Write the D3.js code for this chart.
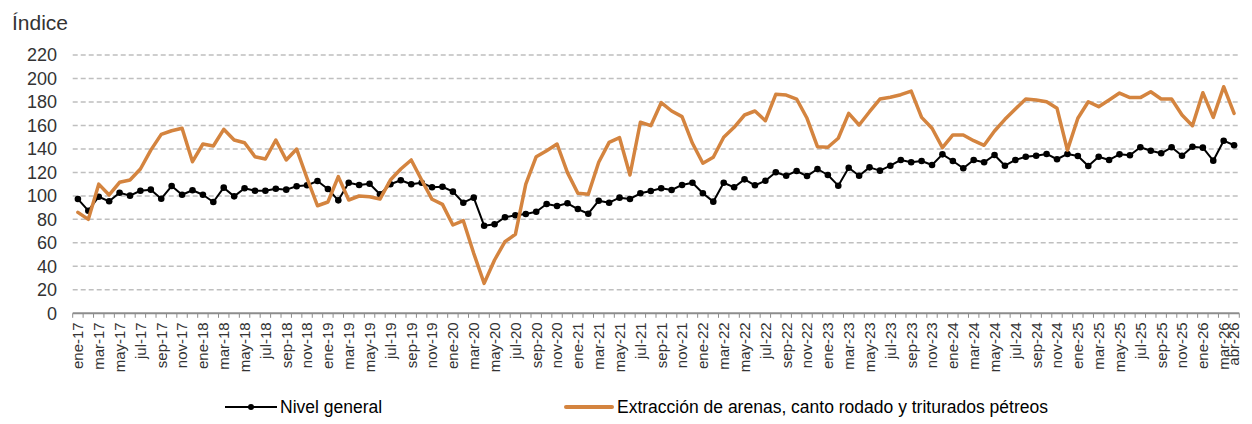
<!DOCTYPE html>
<html><head><meta charset="utf-8">
<script src="https://cdn.jsdelivr.net/npm/d3@7"></script>
<style>body{margin:0;background:#fff} svg{display:block}</style>
</head><body><svg id="c" width="1252" height="424"></svg>
<script>
const months = ["ene","feb","mar","abr","may","jun","jul","ago","sep","oct","nov","dic"];
const years = ["17","18","19","20","21","22","23","24","25","26"];
const categories = [];
years.forEach(y => months.forEach(m => categories.push(m + "-" + y)));
categories.splice(112);

const nivelGeneral = [97.3, 87.4, 99.3, 95.4, 102.7, 100.2, 104.4, 105.3, 97.6, 108.4,
  101, 104.8, 101, 94.8, 107, 99.6, 106.5, 104.4, 104.4, 106.1,
  105.3, 108.2, 109, 112.7, 105.9, 96.2, 111.2, 109.3, 110.4, 101.4,
  109.9, 113.3, 109.9, 111.2, 107.3, 107.8, 103.6, 94.2, 98.5, 74.6,
  75.8, 81.8, 83.5, 84.6, 86.5, 93.1, 91.4, 93.7, 88.8, 84.8,
  95.9, 94.2, 98.5, 97.4, 102.2, 104.2, 106.5, 105, 109.3, 111.2,
  102.2, 95.1, 111.2, 107.3, 114.1, 109, 112.9, 120.1, 117.2, 121.2,
  116.9, 122.9, 117.8, 108.7, 124, 117.2, 124.3, 121.5, 125.7, 130.6,
  128.6, 129.7, 126.3, 135.4, 129.7, 123.5, 130.6, 128.6, 134.8, 125.7,
  130.6, 133.4, 134.2, 135.7, 131.2, 135.7, 134, 125.5, 133.4, 130.6,
  135.4, 134.6, 141.4, 138.5, 136.3, 141.4, 134.2, 141.9, 141.1, 130, 147, 143.1];

const extraccion = [86, 80, 110, 100.8, 111.6, 113.5, 122.9, 139, 152.4, 155.5,
  157.6, 129.1, 144.2, 142.5, 156.7, 147.6, 145.3, 133.4, 131.4, 147.6,
  130.6, 139.9, 115, 91.6, 94.8, 116.4, 96.5, 99.9, 99.3, 97.3,
  113.5, 122.9, 130.6, 113.5, 97.1, 92.8, 75.2, 78.9, 51.1, 25.5,
  45.4, 61, 67.3, 110.1, 133.4, 138.5, 144.2, 119.8, 102.2, 101.4,
  128.6, 145.6, 149.6, 117.8, 162.7, 159.8, 179.4, 172.3, 167.5, 144.8,
  127.8, 132.9, 149.9, 158.4, 168.9, 172.3, 164, 186.5, 185.9, 182.5,
  166.1, 141.9, 141.4, 149.1, 170.3, 160.4, 171.7, 182.5, 184, 186.2,
  189.3, 166.9, 157.6, 141.1, 151.9, 151.9, 147, 143.1, 155.3, 165.2,
  174, 182.5, 181.7, 180.2, 174.6, 139, 166.1, 180.2, 176, 181.7,
  187.6, 183.7, 183.7, 188.7, 182.5, 182.5, 168.9, 159.8, 187.9, 166.9, 193, 170.3];

const yTicks = [0, 20, 40, 60, 80, 100, 120, 140, 160, 180, 200, 220];
const xTickLabels = categories.filter((c, i) => i % 2 === 0 || i === categories.length - 1);
const seriesNames = ["Nivel general", "Extracción de arenas, canto rodado y triturados pétreos"];

const FONT = "'Liberation Sans', Arial, Helvetica, sans-serif";
const svg = d3.select("#c");
const x0 = 72.7, x1 = 1239.3, yBase = 313.3, yTop = 55;
const x = d3.scaleBand().domain(categories).range([x0, x1]).paddingInner(0).paddingOuter(0);
const y = d3.scaleLinear().domain([0, 220]).range([yBase, yTop]);
const bw = x.bandwidth();
const cx = c => x(c) + bw / 2;

// title
svg.append("text").attr("x", 12).attr("y", 30).text("Índice")
  .attr("font-family", FONT).attr("font-size", 21).attr("fill", "#333");

// gridlines
svg.append("g").selectAll("line").data(yTicks.filter(t => t > 0)).join("line")
  .attr("x1", x0).attr("x2", x1).attr("y1", d => y(d)).attr("y2", d => y(d))
  .attr("stroke", "#bfbfbf").attr("stroke-width", 1.5).attr("stroke-dasharray", "5,3");

// y axis labels
const gy = svg.append("g").attr("transform", "translate(65,0)")
  .call(d3.axisLeft(y).tickValues(yTicks).tickSize(0).tickPadding(8));
gy.select(".domain").remove();
gy.selectAll("text").attr("font-family", FONT).attr("font-size", 18).attr("fill", "#333");

// x axis line and ticks
svg.append("line").attr("x1", x0).attr("x2", x1).attr("y1", yBase).attr("y2", yBase)
  .attr("stroke", "#8c8c8c").attr("stroke-width", 2);
const bounds = categories.map(c => x(c)).concat([x(categories[categories.length - 1]) + bw]);
svg.append("g").selectAll("line").data(bounds).join("line")
  .attr("x1", d => d).attr("x2", d => d).attr("y1", yBase).attr("y2", yBase + 4.5)
  .attr("stroke", "#8c8c8c").attr("stroke-width", 1);

// x labels
svg.append("g").selectAll("text").data(xTickLabels).join("text")
  .attr("transform", d => `translate(${cx(d)},${yBase + 9}) rotate(-90)`)
  .attr("text-anchor", "end").attr("dy", "0.36em")
  .attr("font-family", FONT).attr("font-size", 15).attr("fill", "#333")
  .text(d => d);

// series
const ORANGE = "#D4843F";
const lineGen = d3.line().x((d, i) => cx(categories[i])).y(d => y(d));
svg.append("path").datum(nivelGeneral).attr("d", lineGen)
  .attr("fill", "none").attr("stroke", "#000").attr("stroke-width", 2).attr("stroke-linejoin", "round");
svg.append("g").selectAll("circle").data(nivelGeneral).join("circle")
  .attr("cx", (d, i) => cx(categories[i])).attr("cy", d => y(d)).attr("r", 3.3).attr("fill", "#000");
svg.append("path").datum(extraccion).attr("d", lineGen)
  .attr("fill", "none").attr("stroke", ORANGE).attr("stroke-width", 3.5)
  .attr("stroke-linejoin", "round").attr("stroke-linecap", "round");

// legend
const ly = 407;
svg.append("line").attr("x1", 225).attr("x2", 277).attr("y1", ly).attr("y2", ly)
  .attr("stroke", "#000").attr("stroke-width", 2);
svg.append("circle").attr("cx", 251).attr("cy", ly).attr("r", 3).attr("fill", "#000");
svg.append("text").attr("x", 280).attr("y", ly).attr("dy", "0.35em").text(seriesNames[0])
  .attr("font-family", FONT).attr("font-size", 17.5).attr("fill", "#000");
svg.append("line").attr("x1", 566).attr("x2", 612).attr("y1", ly).attr("y2", ly)
  .attr("stroke", ORANGE).attr("stroke-width", 4).attr("stroke-linecap", "round");
svg.append("text").attr("x", 617).attr("y", ly).attr("dy", "0.35em").text(seriesNames[1])
  .attr("font-family", FONT).attr("font-size", 17.5).attr("fill", "#000");
</script></body></html>
